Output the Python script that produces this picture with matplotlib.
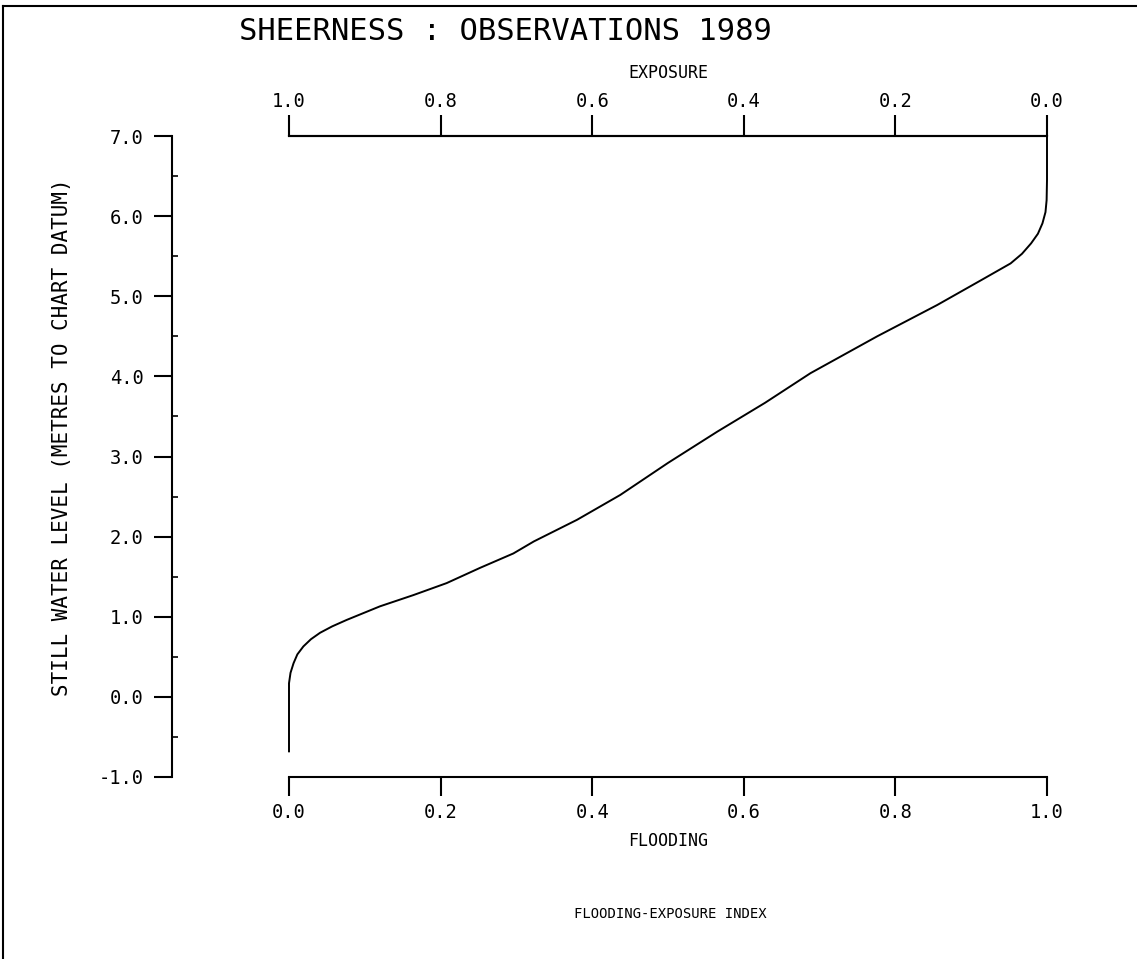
import numpy as np
import matplotlib.pyplot as plt
from matplotlib.lines import Line2D

# curve: flooding index vs still water level
flooding = [0.0, 0.0, 0.002, 0.006, 0.011, 0.019, 0.029, 0.041, 0.057, 0.076,
            0.120, 0.164, 0.208, 0.252, 0.296, 0.323, 0.380, 0.437, 0.500,
            0.565, 0.628, 0.688, 0.776, 0.855, 0.913, 0.952, 0.967, 0.979,
            0.988, 0.994, 0.998, 0.9995, 1.0, 1.0]
level = [-0.68, 0.17, 0.30, 0.42, 0.53, 0.63, 0.72, 0.80, 0.88, 0.96,
         1.13, 1.27, 1.42, 1.61, 1.79, 1.94, 2.21, 2.52, 2.92,
         3.31, 3.67, 4.04, 4.50, 4.89, 5.20, 5.41, 5.53, 5.66,
         5.78, 5.91, 6.05, 6.20, 6.45, 7.0]

y_ticks = [-1.0, 0.0, 1.0, 2.0, 3.0, 4.0, 5.0, 6.0, 7.0]
y_minor = [-0.5, 0.5, 1.5, 2.5, 3.5, 4.5, 5.5, 6.5]
x_ticks = [0.0, 0.2, 0.4, 0.6, 0.8, 1.0]

title = 'SHEERNESS : OBSERVATIONS 1989'
ylabel = 'STILL WATER LEVEL (METRES TO CHART DATUM)'

plt.rcParams['font.family'] = 'DejaVu Sans Mono'

W, H = 1137, 959
fig = plt.figure(figsize=(W / 100, H / 100), dpi=100)
ax = fig.add_axes([289 / W, 1 - 777 / H, (1047 - 289) / W, (777 - 136) / H])

ax.plot(flooding, level, color='black', lw=1.4, clip_on=False)
ax.set_xlim(0, 1)
ax.set_ylim(-1, 7)

# left axis sits well away from the plot
ax.spines['right'].set_visible(False)
ax.spines['left'].set_position(('axes', -0.155))
for s in ['left', 'top', 'bottom']:
    ax.spines[s].set_linewidth(1.5)

ax.set_yticks(y_ticks)
ax.set_yticklabels(['%.1f' % v for v in y_ticks])
ax.set_yticks(y_minor, minor=True)
ax.tick_params(axis='y', which='major', direction='out', length=13, width=1.5,
               pad=7, labelsize=13.5)
ax.tick_params(axis='y', which='minor', direction='in', length=4.5, width=1.2)

ax.set_xticks(x_ticks)
ax.set_xticklabels(['%.1f' % v for v in x_ticks])
ax.tick_params(axis='x', direction='out', length=14, width=1.5, pad=5,
               labelsize=13.5)

sec = ax.secondary_xaxis('top', functions=(lambda x: 1 - x, lambda x: 1 - x))
sec.set_xticks(x_ticks)
sec.set_xticklabels(['%.1f' % v for v in x_ticks])
sec.tick_params(direction='out', length=15, width=1.5, pad=3, labelsize=13.5)
sec.spines['top'].set_linewidth(1.5)

ax.set_ylabel(ylabel, fontsize=15)
ax.yaxis.set_label_coords(-0.286, 0.53)

fig.text(505 / W, 1 - 32 / H, title, fontsize=22, ha='center', va='center')
fig.text(668 / W, 1 - 73 / H, 'EXPOSURE', fontsize=12, ha='center', va='center')
fig.text(668 / W, 1 - 841 / H, 'FLOODING', fontsize=12, ha='center', va='center')
fig.text(670 / W, 1 - 914 / H, 'FLOODING-EXPOSURE INDEX', fontsize=10,
         ha='center', va='center')

# page frame (top and left edges only)
fig.add_artist(Line2D([3 / W, 1], [1 - 6 / H, 1 - 6 / H], color='black', lw=1.5))
fig.add_artist(Line2D([3 / W, 3 / W], [0, 1 - 6 / H], color='black', lw=1.5))

fig.savefig('out.png', dpi=100, facecolor='white')
